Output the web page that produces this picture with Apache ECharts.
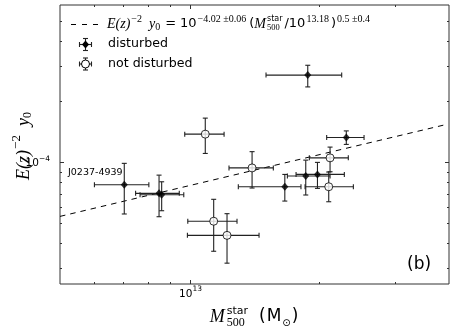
<!DOCTYPE html>
<html>
<head>
<meta charset="utf-8">
<script src="https://cdn.jsdelivr.net/npm/echarts@6/dist/echarts.min.js"></script>
<style>
html, body { margin: 0; padding: 0; background: #fff; }
#chart { width: 463px; height: 333px; }
</style>
</head>
<body>
<div id="chart"></div>
<script>
// disturbed clusters: M500 (Msun), E(z)^-2 y0, and error-bar ends
const distM   = [7.05e12, 8.49e12, 8.61e12, 1.88e13, 2.31e13, 1.86e13, 1.98e13, 1.663e13];
const distY   = [7.74e-5, 7.02e-5, 6.91e-5, 2.70e-4, 1.327e-4, 8.55e-5, 8.71e-5, 7.57e-5];
const distMLo = [6.01e12, 7.49e12, 7.67e12, 1.504e13, 2.08e13, 1.686e13, 1.766e13, 1.297e13];
const distMHi = [8.04e12, 9.46e12, 9.69e12, 2.254e13, 2.54e13, 2.118e13, 2.286e13, 1.813e13];
const distYLo = [5.55e-5, 5.38e-5, 5.76e-5, 2.36e-4, 1.226e-4, 6.89e-5, 7.43e-5, 6.43e-5];
const distYHi = [9.88e-5, 8.64e-5, 8.01e-5, 3.02e-4, 1.43e-4, 1.025e-4, 9.99e-5, 8.71e-5];

// not disturbed clusters
const relM   = [1.087e13, 1.396e13, 1.137e13, 1.221e13, 2.118e13, 2.103e13];
const relY   = [1.378e-4, 9.38e-5, 5.11e-5, 4.35e-5, 1.052e-4, 7.57e-5];
const relMLo = [9.74e12, 1.234e13, 9.9e12, 9.88e12, 1.896e13, 1.853e13];
const relMHi = [1.202e13, 1.564e13, 1.288e13, 1.449e13, 2.335e13, 2.399e13];
const relYLo = [1.106e-4, 7.46e-5, 3.63e-5, 3.17e-5, 8.98e-5, 6.38e-5];
const relYHi = [1.654e-4, 1.129e-4, 6.56e-5, 5.57e-5, 1.189e-4, 8.95e-5];

// fitted relation (dashed), read at its two ends
const fitM = [5.0e12, 3.9e13];
const fitY = [5.4e-5, 1.53e-4];

// axis ticks
const xMajor = [1e13];
const xMinor = [6e12, 7e12, 8e12, 9e12, 2e13, 3e13];
const yMajor = [1e-4];
const yMinor = [3e-5, 4e-5, 5e-5, 6e-5, 7e-5, 8e-5, 9e-5, 2e-4, 3e-4, 4e-4, 5e-4];

const xMin = 5e12, xMax = 4e13, yMin = 2.5e-5, yMax = 6e-4;

// text measuring for the math-like labels
const ctx = document.createElement('canvas').getContext('2d');
const textW = (t, font) => { ctx.font = font; return ctx.measureText(t).width; };
const fSerI = s => 'italic ' + s + 'px "Liberation Serif"';
const fSer = s => s + 'px "Liberation Serif"';
const fSans = s => s + 'px "DejaVu Sans"';

function mathRow(pieces, x0, y0, anchor) {
  let x = 0, prevStart = 0;
  const placed = [];
  pieces.forEach(p => {
    const start = p.stack ? prevStart : x + (p.gap || 0);
    const end = start + textW(p.t, p.f);
    placed.push({ p: p, start: start });
    x = p.stack ? Math.max(x, end) : end;
    prevStart = start;
  });
  const off = anchor === 'center' ? -x / 2 : anchor === 'right' ? -x : 0;
  return placed.map(o => ({
    type: 'text',
    x: x0 + off + o.start,
    y: y0 + (o.p.dy || 0),
    style: {
      text: o.p.t, font: o.p.f, fill: '#000',
      textAlign: 'left', align: 'left',
      textVerticalAlign: 'middle', verticalAlign: 'middle'
    }
  }));
}

const errData = (m, y, mlo, mhi, ylo, yhi) => m.map((v, i) => [v, y[i], mlo[i], mhi[i], ylo[i], yhi[i]]);

function errRender(params, api) {
  const x = api.value(0), y = api.value(1);
  const a = api.coord([api.value(2), y]), b = api.coord([api.value(3), y]);
  const c = api.coord([x, api.value(4)]), d = api.coord([x, api.value(5)]);
  const cap = 2.5;
  const st = { stroke: '#222', lineWidth: 1.1 };
  const seg = (x1, y1, x2, y2) => ({ type: 'line', shape: { x1: x1, y1: y1, x2: x2, y2: y2 }, style: st });
  return {
    type: 'group',
    children: [
      seg(a[0], a[1], b[0], b[1]),
      seg(a[0], a[1] - cap, a[0], a[1] + cap),
      seg(b[0], b[1] - cap, b[0], b[1] + cap),
      seg(c[0], c[1], d[0], d[1]),
      seg(c[0] - cap, c[1], c[0] + cap, c[1]),
      seg(d[0] - cap, d[1], d[0] + cap, d[1])
    ]
  };
}

// tick rows: [x, y, 0 = x tick / 1 = y tick, length, major]
const tickData = []
  .concat(xMajor.map(v => [v, yMin, 0, 4, 1]))
  .concat(xMinor.map(v => [v, yMin, 0, 2, 0]))
  .concat(yMajor.map(v => [xMin, v, 1, 4, 1]))
  .concat(yMinor.map(v => [xMin, v, 1, 2, 0]));

function tickRender(params, api) {
  const cs = params.coordSys;
  const p = api.coord([api.value(0), api.value(1)]);
  const len = api.value(3);
  const st = { stroke: '#333', lineWidth: 1 };
  const kids = [];
  if (api.value(2) === 0) {
    const px = Math.round(p[0]) + 0.5, b = cs.y + cs.height, t = cs.y;
    kids.push({ type: 'line', shape: { x1: px, y1: b, x2: px, y2: b - len }, style: st });
    kids.push({ type: 'line', shape: { x1: px, y1: t, x2: px, y2: t + len }, style: st });
    if (api.value(4)) {
      const e = Math.round(Math.log10(api.value(0)));
      kids.push.apply(kids, mathRow([
        { t: '10', f: fSans(10.5) },
        { t: String(e), f: fSans(7.5), dy: -4.5 }
      ], px, b + 10, 'center'));
    }
  } else {
    const py = Math.round(p[1]) + 0.5, l = cs.x, r = cs.x + cs.width;
    kids.push({ type: 'line', shape: { x1: l, y1: py, x2: l + len, y2: py }, style: st });
    kids.push({ type: 'line', shape: { x1: r, y1: py, x2: r - len, y2: py }, style: st });
    if (api.value(4)) {
      const e = Math.round(Math.log10(api.value(1)));
      kids.push.apply(kids, mathRow([
        { t: '10', f: fSans(10.5) },
        { t: String(e).replace('-', '\u2212'), f: fSans(7.5), dy: -4.5 }
      ], l - 10, py + 1, 'right'));
    }
  }
  return { type: 'group', children: kids };
}

// legend, labels and annotations
const legendEq = mathRow([
  { t: 'E(z)', f: fSerI(14) },
  { t: '\u22122', f: fSer(10), dy: -5, gap: 1 },
  { t: 'y', f: fSerI(14), gap: 7 },
  { t: '0', f: fSer(10), dy: 3 },
  { t: '=', f: fSans(13), gap: 5 },
  { t: '10', f: fSans(13), gap: 4 },
  { t: '\u22124.02 \u00b10.06', f: fSer(10), dy: -5, gap: 1 },
  { t: '(', f: fSans(13), gap: 3 },
  { t: 'M', f: fSerI(14) },
  { t: 'star', f: fSans(8), dy: -5, gap: 1 },
  { t: '500', f: fSer(8.5), dy: 4, stack: true },
  { t: '/10', f: fSans(13), gap: 2 },
  { t: '13.18', f: fSer(10), dy: -5, gap: 1 },
  { t: ')', f: fSans(13), gap: 2 },
  { t: '0.5 \u00b10.4', f: fSer(10), dy: -5, gap: 1 }
], 107, 24, 'left');

const yTitle = mathRow([
  { t: 'E(z)', f: fSerI(18) },
  { t: '\u22122', f: fSer(13), dy: -7, gap: 1 },
  { t: 'y', f: fSerI(18), gap: 9 },
  { t: '0', f: fSer(12), dy: 4 }
], 0, 0, 'center');

const xTitle = mathRow([
  { t: 'M', f: fSerI(18) },
  { t: 'star', f: fSans(11), dy: -6, gap: 2 },
  { t: '500', f: fSer(12), dy: 6, stack: true },
  { t: '(', f: fSans(17), gap: 11 },
  { t: 'M', f: fSans(17), gap: 1 },
  { t: '\u2299', f: fSans(10), dy: 6, gap: 1 },
  { t: ')', f: fSans(17), gap: 1 }
], 254, 317, 'center');

const lseg = (x1, y1, x2, y2, extra) => Object.assign({ type: 'line', shape: { x1: x1, y1: y1, x2: x2, y2: y2 }, style: { stroke: '#222', lineWidth: 1.1 } }, extra || {});
function legendMark(cx, cy, filled) {
  const kids = [
    lseg(cx - 6, cy, cx + 6, cy), lseg(cx - 6, cy - 2.5, cx - 6, cy + 2.5), lseg(cx + 6, cy - 2.5, cx + 6, cy + 2.5),
    lseg(cx, cy - 6, cx, cy + 6), lseg(cx - 2.5, cy - 6, cx + 2.5, cy - 6), lseg(cx - 2.5, cy + 6, cx + 2.5, cy + 6)
  ];
  if (filled) {
    kids.push({ type: 'polygon', shape: { points: [[cx, cy - 4], [cx + 3.5, cy], [cx, cy + 4], [cx - 3.5, cy]] }, style: { fill: '#000' } });
  } else {
    kids.push({ type: 'circle', shape: { cx: cx, cy: cy, r: 4 }, style: { fill: '#fff', stroke: '#000', lineWidth: 1 } });
  }
  return kids;
}

const plainText = (t, x, y, font) => ({
  type: 'text', x: x, y: y,
  style: { text: t, font: font, fill: '#000', textAlign: 'left', align: 'left', textVerticalAlign: 'middle', verticalAlign: 'middle' }
});

const chart = echarts.init(document.getElementById('chart'), null, { renderer: 'canvas' });
chart.setOption({
  animation: false,
  backgroundColor: '#fff',
  grid: { left: 60, right: 14, top: 5, bottom: 49, show: true, borderColor: '#333', borderWidth: 1, backgroundColor: 'transparent' },
  xAxis: {
    type: 'log', logBase: 10, min: xMin, max: xMax,
    axisLine: { show: false }, axisTick: { show: false }, axisLabel: { show: false }, splitLine: { show: false }
  },
  yAxis: {
    type: 'log', logBase: 10, min: yMin, max: yMax,
    axisLine: { show: false }, axisTick: { show: false }, axisLabel: { show: false }, splitLine: { show: false }
  },
  series: [
    {
      type: 'line', data: fitM.map((m, i) => [m, fitY[i]]), symbol: 'none', z: 1,
      lineStyle: { color: '#000', width: 1, type: [5.5, 5] }
    },
    { type: 'custom', renderItem: errRender, data: errData(distM, distY, distMLo, distMHi, distYLo, distYHi), encode: { x: 0, y: 1 }, z: 2 },
    { type: 'custom', renderItem: errRender, data: errData(relM, relY, relMLo, relMHi, relYLo, relYHi), encode: { x: 0, y: 1 }, z: 2 },
    {
      type: 'scatter', name: 'disturbed', data: distM.map((m, i) => [m, distY[i]]),
      symbol: 'diamond', symbolSize: [7, 8], itemStyle: { color: '#000' }, z: 3
    },
    {
      type: 'scatter', name: 'not disturbed', data: relM.map((m, i) => [m, relY[i]]),
      symbol: 'circle', symbolSize: 8, itemStyle: { color: '#fff', borderColor: '#000', borderWidth: 1 }, z: 3
    },
    { type: 'custom', renderItem: tickRender, data: tickData, encode: { x: 0, y: 1 }, z: 4, silent: true }
  ],
  graphic: {
    elements: [
      { type: 'line', shape: { x1: 71, y1: 24.5, x2: 98, y2: 24.5 }, style: { stroke: '#000', lineWidth: 1, lineDash: [5, 6] } },
      { type: 'group', children: legendEq },
      { type: 'group', children: legendMark(85.5, 44.5, true) },
      { type: 'group', children: legendMark(85.5, 64, false) },
      plainText('disturbed', 108, 44, fSans(12.6)),
      plainText('not disturbed', 108, 63.5, fSans(12.6)),
      { type: 'group', x: 24, y: 146, rotation: Math.PI / 2, children: yTitle },
      { type: 'group', children: xTitle },
      plainText('J0237-4939', 68, 173, fSans(9.5)),
      plainText('(b)', 407, 265, fSans(17))
    ]
  }
});
</script>
</body>
</html>
